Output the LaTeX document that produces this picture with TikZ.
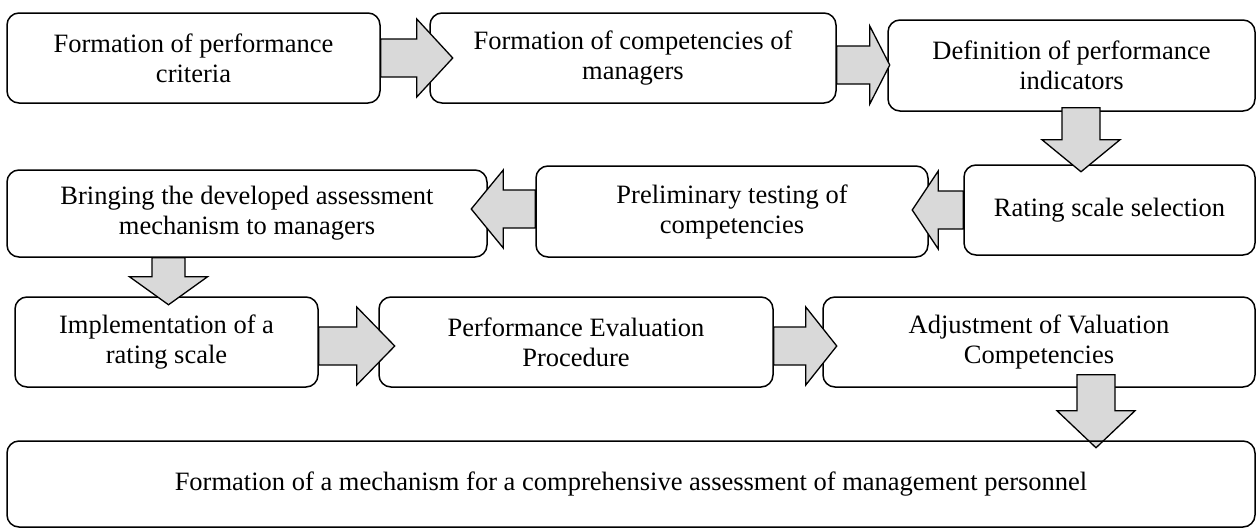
\documentclass[tikz,border=0pt]{standalone}
\usepackage{fontspec}
\setmainfont{Liberation Serif}
\usetikzlibrary{calc}
\definecolor{arrowgray}{HTML}{D9D9D9}
\tikzset{
  box/.style={draw, line width=1.5pt, rounded corners=12pt, align=center, inner sep=0pt,
    font=\fontsize{26.5}{30}\selectfont},
  blk/.style={draw, fill=arrowgray, line width=1.3pt, line join=miter}
}
% right / left / down block arrows: start, shaft length, head length, shaft half width
\newcommand{\arrR}[4]{\draw[blk] (#1) ++(0,-#4) -- ++(#2,0) -- ++(0,{#4-39}) -- ++(#3,39) -- ++(-#3,39) -- ++(0,{#4-39}) -- ++(-#2,0) -- cycle;}
\newcommand{\arrL}[4]{\draw[blk] (#1) ++(0,-#4) -- ++(-#2,0) -- ++(0,{#4-39}) -- ++(-#3,39) -- ++(#3,39) -- ++(0,{#4-39}) -- ++(#2,0) -- cycle;}
\newcommand{\arrD}[4]{\draw[blk] (#1) ++(-#4,0) -- ++(0,#2) -- ++({#4-39},0) -- ++(39,#3) -- ++(39,-#3) -- ++({#4-39},0) -- ++(0,-#2) -- cycle;}
\begin{document}
\begin{tikzpicture}[x=1pt,y=-1pt]
\useasboundingbox (0,0) rectangle (1258,528);
% row 1
\node[box, minimum width=373pt, minimum height=90pt] (b1) at (193.5,58) {Formation of performance\\criteria};
\node[box, minimum width=406pt, minimum height=90pt] (b2) at (633,58) {Formation of competencies of\\managers};
\node[box, minimum width=367pt, minimum height=91pt] (b3) at (1071.5,65.5) {Definition of performance\\indicators};
% row 2
\node[box, minimum width=291pt, minimum height=90pt] (b4) at (1109.5,210) {Rating scale selection};
\node[box, minimum width=392pt, minimum height=91pt] (b5) at (732,211.5) {Preliminary testing of\\competencies};
\node[box, minimum width=480pt, minimum height=87pt] (b6) at (247,213.5) {Bringing the developed assessment\\mechanism to managers};
% row 3
\node[box, minimum width=303pt, minimum height=90pt] (b7) at (166.5,342) {Implementation of a\\rating scale};
\node[box, minimum width=394pt, minimum height=90pt] (b8) at (576,342) {Performance Evaluation\\Procedure};
\node[box, minimum width=432pt, minimum height=90pt] (b9) at (1039,342) {Adjustment of Valuation\\Competencies};
% arrows
\arrR{b1.east}{36}{36}{19}
\arrR{$(b2.east)+(0,7)$}{33}{20}{19}
\arrD{$(b3.south)+(9.5,-4)$}{32}{32}{19}
\arrL{b4.west}{25}{26}{19}
\arrL{$(b5.west)+(0,-2.5)$}{32}{32}{19}
\arrD{$(b6.south)+(-78.5,0)$}{19}{28}{16.5}
\arrR{$(b7.east)+(0,4)$}{38}{38}{19}
\arrR{$(b8.east)+(0,4)$}{32}{31}{19}
\arrD{$(b9.south)+(57,-13)$}{36}{37}{19}
% final box
\node[box, minimum width=1248pt, minimum height=86pt] (b10) at (631,484) {Formation of a mechanism for a comprehensive assessment of management personnel};
\end{tikzpicture}
\end{document}
